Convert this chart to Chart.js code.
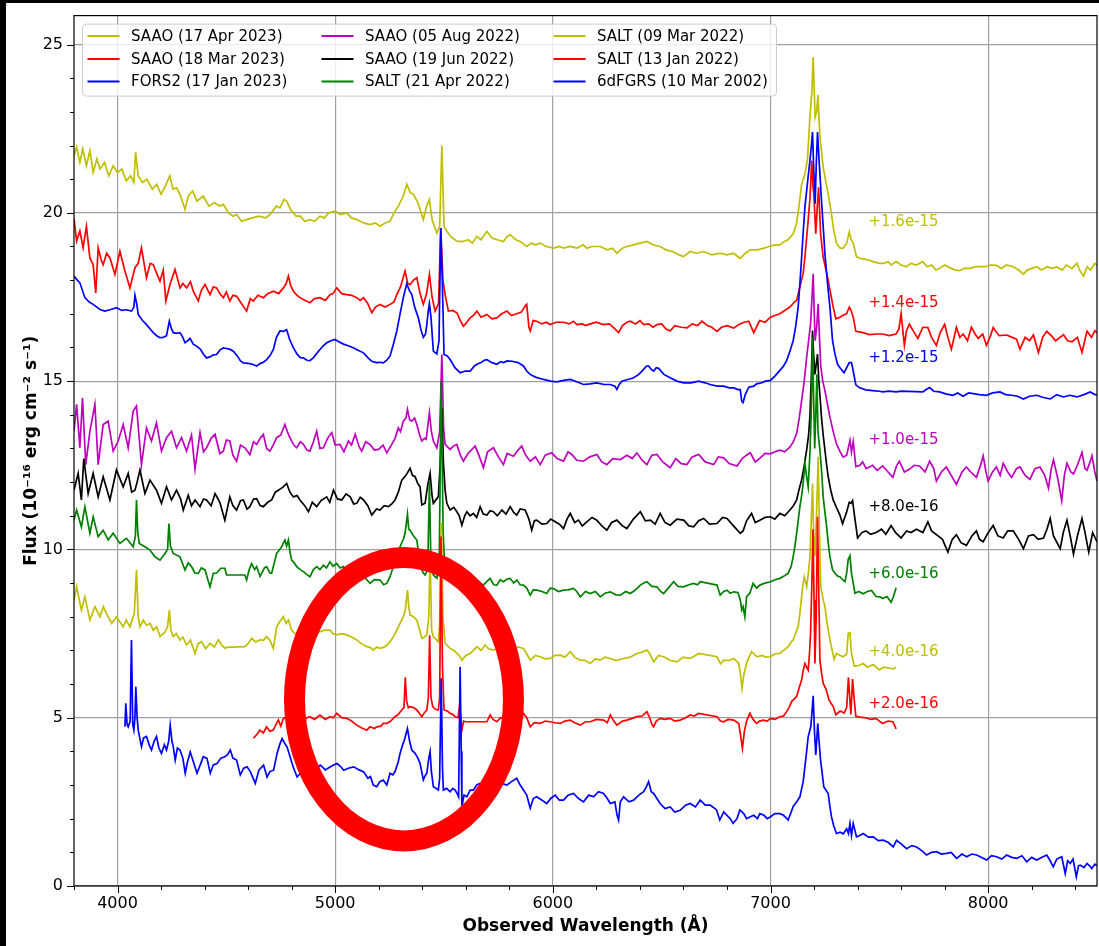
<!DOCTYPE html>
<html><head><meta charset="utf-8">
<script src="https://cdn.jsdelivr.net/npm/chart.js@4.4.1/dist/chart.umd.min.js"></script>
<style>
html,body{margin:0;padding:0;background:#000;width:1099px;height:946px;overflow:hidden}
#wrap{position:absolute;left:6px;top:3px;width:1093px;height:943px;background:#fff}
canvas{display:block}
</style></head>
<body><div id="wrap"><canvas id="c" width="1093" height="943" style="width:1093px;height:943px"></canvas></div>
<script>
// ---------------- DATA (wavelength Å, flux 1e-16 erg/cm2/s/Å incl. offsets) ----------------
const seriesLabels = ['SAAO (17 Apr 2023)','SAAO (18 Mar 2023)','FORS2 (17 Jan 2023)','SAAO (05 Aug 2022)','SAAO (19 Jun 2022)','SALT (21 Apr 2022)','SALT (09 Mar 2022)','SALT (13 Jan 2022)','6dFGRS (10 Mar 2002)'];
const offsetLabels = ['+1.6e-15','+1.4e-15','+1.2e-15','+1.0e-15','+8.0e-16','+6.0e-16','+4.0e-16','+2.0e-16'];
const offsetLabelWl = 7450;
const offsetLabelFlux = [19.71,17.31,15.68,13.24,11.27,9.27,6.94,5.41];
const xMajorTicks = [4000,5000,6000,7000,8000];
const yMajorTicks = [0,5,10,15,20,25];
const xLimits = [3800,8500];
const yLimits = [0,25.86];
const circleCenter = [5316,5.55];   // annotation ellipse centre (Å, flux)
const circleRadius = [503,4.21];    // half-axes (Å, flux)

const saao17Apr2023 = [[3800,21.7],[3812,21.95],[3827,21.5],[3840,21.9],[3857,21.4],[3873,21.85],[3888,21.2],[3905,21.6],[3920,21.3],[3940,21.5],[3960,21.1],[3980,21.4],[4000,21.2],[4020,21.3],[4040,20.95],[4060,21.1],[4075,20.9],[4083,21.8],[4095,21.1],[4115,20.9],[4135,21.0],[4160,20.7],[4180,20.85],[4200,20.55],[4220,20.8],[4240,21.1],[4255,20.7],[4271,20.75],[4290,20.5],[4310,20.1],[4325,20.5],[4345,20.65],[4365,20.35],[4394,20.5],[4420,20.2],[4445,20.3],[4470,20.2],[4486,20.25],[4510,20.0],[4530,19.9],[4547,19.95],[4570,19.75],[4593,19.8],[4620,19.85],[4650,19.9],[4680,19.85],[4700,19.95],[4730,20.2],[4746,20.15],[4765,20.4],[4777,20.35],[4795,20.1],[4820,19.9],[4840,19.9],[4860,19.75],[4884,19.8],[4905,19.75],[4930,19.9],[4950,19.85],[4970,20.0],[5000,20.05],[5025,19.95],[5053,20.0],[5075,19.85],[5100,19.8],[5130,19.7],[5160,19.65],[5185,19.7],[5206,19.6],[5230,19.7],[5252,19.75],[5270,20.0],[5290,20.2],[5313,20.5],[5329,20.85],[5345,20.6],[5360,20.55],[5380,20.3],[5395,20.0],[5405,19.8],[5420,20.2],[5433,20.4],[5445,19.8],[5467,19.4],[5480,19.6],[5490,22.0],[5500,19.6],[5513,19.45],[5530,19.3],[5560,19.15],[5589,19.15],[5610,19.2],[5630,19.1],[5650,19.3],[5670,19.2],[5697,19.45],[5720,19.25],[5745,19.2],[5773,19.15],[5790,19.3],[5804,19.35],[5830,19.2],[5850,19.15],[5880,19.0],[5900,19.1],[5920,19.05],[5942,19.1],[5970,19.0],[6003,18.95],[6030,19.0],[6050,18.95],[6080,19.0],[6110,18.95],[6140,19.05],[6156,18.95],[6180,19.0],[6218,19.0],[6250,18.9],[6275,18.95],[6294,18.8],[6320,18.95],[6340,19.0],[6371,19.05],[6400,19.1],[6432,19.15],[6460,19.05],[6493,19.0],[6520,18.9],[6550,18.85],[6580,18.75],[6601,18.7],[6630,18.85],[6660,18.8],[6693,18.85],[6730,18.75],[6769,18.8],[6800,18.75],[6830,18.8],[6861,18.65],[6885,18.8],[6907,18.9],[6940,18.9],[6970,18.95],[6992,19.0],[7020,19.05],[7043,19.05],[7058,19.13],[7080,19.2],[7104,19.38],[7120,19.7],[7127,20.0],[7143,20.85],[7158,21.15],[7170,21.6],[7181,22.85],[7190,23.6],[7196,24.62],[7201,23.6],[7205,22.84],[7212,23.0],[7218,23.5],[7227,22.25],[7242,21.36],[7255,20.9],[7265,20.56],[7280,19.97],[7290,19.5],[7303,19.1],[7320,18.95],[7334,18.95],[7350,19.1],[7362,19.43],[7370,19.2],[7380,19.1],[7395,18.7],[7410,18.65],[7426,18.63],[7450,18.6],[7472,18.55],[7500,18.5],[7520,18.5],[7540,18.55],[7555,18.45],[7577,18.55],[7600,18.45],[7623,18.4],[7645,18.5],[7670,18.45],[7700,18.55],[7720,18.4],[7740,18.45],[7760,18.3],[7777,18.35],[7800,18.45],[7830,18.35],[7850,18.3],[7869,18.28],[7890,18.35],[7920,18.35],[7940,18.4],[7962,18.4],[7990,18.4],[8010,18.45],[8038,18.44],[8060,18.35],[8085,18.45],[8115,18.4],[8140,18.3],[8162,18.18],[8180,18.3],[8200,18.35],[8223,18.4],[8245,18.3],[8270,18.4],[8295,18.35],[8315,18.39],[8340,18.3],[8360,18.45],[8385,18.35],[8408,18.5],[8420,18.3],[8438,18.12],[8455,18.4],[8470,18.3],[8490,18.5],[8500,18.44]];

const saao18Mar2023 = [[3800,19.83],[3812,19.16],[3827,19.46],[3842,18.96],[3857,19.6],[3873,18.66],[3888,18.46],[3900,17.62],[3911,18.96],[3925,18.6],[3934,18.46],[3950,18.8],[3965,18.66],[3988,18.17],[4011,18.86],[4034,18.27],[4057,17.77],[4080,18.37],[4095,18.5],[4110,18.96],[4133,18.07],[4150,18.5],[4164,18.46],[4180,18.2],[4195,17.97],[4210,18.3],[4222,17.38],[4241,17.87],[4264,18.32],[4287,17.77],[4300,17.9],[4317,17.77],[4335,17.95],[4348,17.67],[4371,17.38],[4385,17.7],[4402,17.87],[4425,17.57],[4440,17.8],[4455,17.77],[4470,17.6],[4486,17.48],[4500,17.65],[4516,17.38],[4530,17.55],[4547,17.52],[4570,17.3],[4593,17.08],[4610,17.45],[4624,17.38],[4645,17.55],[4670,17.48],[4690,17.6],[4716,17.67],[4740,17.6],[4762,17.77],[4775,17.9],[4785,18.12],[4795,17.85],[4808,17.67],[4825,17.55],[4838,17.48],[4860,17.4],[4884,17.33],[4905,17.45],[4930,17.48],[4955,17.4],[4976,17.57],[4990,17.6],[5007,17.77],[5030,17.6],[5053,17.57],[5075,17.55],[5099,17.48],[5115,17.4],[5130,17.48],[5150,17.3],[5168,17.03],[5185,17.2],[5206,17.28],[5230,17.2],[5252,17.28],[5270,17.35],[5283,17.57],[5300,17.8],[5321,18.27],[5333,17.9],[5344,17.87],[5360,18.0],[5375,18.07],[5390,17.6],[5405,17.28],[5420,17.6],[5433,18.17],[5445,17.5],[5459,17.08],[5475,17.3],[5485,19.55],[5495,18.0],[5505,17.57],[5520,17.08],[5540,17.1],[5559,17.03],[5575,16.8],[5589,16.63],[5605,16.75],[5620,16.88],[5635,16.95],[5651,17.08],[5670,16.9],[5697,16.98],[5720,16.85],[5743,16.88],[5765,17.0],[5789,17.08],[5810,16.95],[5834,17.0],[5855,17.05],[5875,17.25],[5880,17.28],[5890,16.6],[5896,16.49],[5910,16.8],[5926,16.78],[5950,16.7],[5970,16.75],[5988,16.68],[6015,16.75],[6049,16.75],[6075,16.7],[6095,16.78],[6110,16.68],[6135,16.7],[6150,16.65],[6172,16.7],[6200,16.75],[6233,16.68],[6260,16.7],[6285,16.55],[6302,16.44],[6320,16.65],[6340,16.75],[6356,16.78],[6380,16.7],[6400,16.8],[6417,16.68],[6440,16.7],[6460,16.6],[6478,16.68],[6500,16.7],[6520,16.55],[6539,16.49],[6560,16.65],[6590,16.6],[6616,16.58],[6640,16.7],[6665,16.65],[6685,16.78],[6710,16.65],[6730,16.6],[6754,16.48],[6775,16.6],[6800,16.65],[6831,16.58],[6859,16.7],[6880,16.75],[6900,16.78],[6923,16.44],[6950,16.8],[6975,16.75],[7000,16.9],[7020,16.95],[7043,17.0],[7065,17.1],[7089,17.2],[7110,17.35],[7120,17.4],[7135,17.8],[7150,18.2],[7158,18.68],[7173,19.77],[7182,20.5],[7189,21.55],[7195,20.8],[7199,20.56],[7208,19.38],[7215,20.2],[7221,20.76],[7230,19.38],[7242,18.68],[7255,18.3],[7265,17.99],[7288,17.2],[7300,16.85],[7319,16.9],[7331,16.95],[7349,17.0],[7362,17.2],[7369,17.12],[7380,16.9],[7392,16.48],[7420,16.45],[7454,16.38],[7487,16.4],[7515,16.4],[7545,16.35],[7577,16.4],[7590,16.55],[7600,17.01],[7615,16.06],[7625,16.5],[7638,16.69],[7655,16.5],[7677,16.27],[7700,16.6],[7723,16.59],[7740,16.3],[7762,16.06],[7780,16.45],[7800,16.69],[7815,16.3],[7831,15.95],[7854,16.6],[7870,16.3],[7885,16.4],[7905,16.2],[7923,16.6],[7940,16.4],[7954,16.27],[7975,16.4],[7992,16.06],[8008,16.3],[8023,16.59],[8050,16.35],[8085,16.37],[8110,16.3],[8130,16.25],[8146,15.95],[8170,16.3],[8190,16.2],[8208,16.37],[8231,15.85],[8250,16.3],[8269,16.48],[8290,16.35],[8310,16.2],[8330,16.3],[8346,16.38],[8365,16.2],[8385,16.17],[8410,16.3],[8431,15.85],[8454,16.48],[8475,16.3],[8490,16.5],[8500,16.43]];

const fors217Jan2023 = [[3800,18.12],[3815,18.0],[3827,17.92],[3850,17.48],[3870,17.35],[3888,17.28],[3905,17.2],[3919,17.13],[3942,17.08],[3965,17.12],[3980,17.15],[3995,17.18],[4020,17.1],[4041,17.12],[4064,17.08],[4075,17.2],[4080,17.55],[4088,17.3],[4095,16.98],[4115,16.8],[4133,16.68],[4150,16.55],[4164,16.44],[4180,16.35],[4195,16.29],[4210,16.3],[4225,16.35],[4238,16.78],[4248,16.55],[4256,16.44],[4270,16.42],[4287,16.44],[4300,16.3],[4310,16.14],[4322,16.2],[4333,16.27],[4348,16.1],[4363,16.04],[4380,15.95],[4395,15.8],[4409,15.69],[4425,15.72],[4440,15.78],[4455,15.79],[4470,15.92],[4486,15.99],[4500,15.97],[4515,15.95],[4532,15.89],[4550,15.75],[4565,15.6],[4578,15.54],[4600,15.53],[4620,15.5],[4639,15.45],[4655,15.52],[4670,15.56],[4685,15.64],[4700,15.75],[4716,15.94],[4730,16.3],[4746,16.49],[4762,16.48],[4777,16.53],[4790,16.25],[4808,15.99],[4825,15.8],[4840,15.7],[4854,15.69],[4870,15.62],[4884,15.61],[4900,15.7],[4923,15.89],[4945,16.05],[4961,16.14],[4980,16.2],[4999,16.24],[5015,16.18],[5038,16.1],[5060,16.05],[5083,15.99],[5105,15.92],[5130,15.84],[5150,15.7],[5168,15.59],[5190,15.55],[5206,15.56],[5221,15.54],[5237,15.62],[5252,15.75],[5267,16.09],[5283,16.49],[5298,17.0],[5313,17.48],[5329,17.9],[5340,17.7],[5352,17.57],[5365,17.2],[5382,16.88],[5395,16.5],[5405,16.3],[5415,16.4],[5421,16.68],[5428,17.1],[5433,17.3],[5440,16.9],[5451,15.89],[5467,15.81],[5477,16.2],[5485,19.55],[5492,18.0],[5500,15.79],[5515,15.75],[5528,15.64],[5550,15.4],[5574,15.25],[5598,15.3],[5620,15.3],[5640,15.45],[5651,15.5],[5670,15.55],[5685,15.62],[5697,15.64],[5720,15.55],[5743,15.5],[5760,15.58],[5773,15.55],[5790,15.6],[5812,15.59],[5840,15.55],[5865,15.45],[5880,15.3],[5896,15.2],[5920,15.12],[5957,15.05],[5990,15.0],[6018,14.98],[6050,15.02],[6080,15.05],[6110,14.98],[6141,14.9],[6170,14.92],[6202,14.95],[6235,14.9],[6264,14.9],[6285,14.85],[6294,14.75],[6305,14.9],[6317,15.0],[6345,15.05],[6371,15.1],[6395,15.2],[6417,15.35],[6430,15.45],[6440,15.45],[6452,15.35],[6463,15.3],[6475,15.4],[6486,15.38],[6510,15.2],[6539,15.1],[6570,15.0],[6601,14.95],[6635,14.95],[6670,15.0],[6700,14.95],[6723,14.9],[6755,14.85],[6785,14.85],[6810,14.8],[6831,14.8],[6850,14.75],[6861,14.75],[6868,14.4],[6874,14.36],[6884,14.6],[6900,14.82],[6923,14.85],[6936,14.92],[6960,14.95],[6976,15.0],[7000,15.02],[7020,15.15],[7043,15.32],[7060,15.45],[7074,15.61],[7090,15.9],[7104,16.2],[7115,16.6],[7127,17.2],[7135,17.9],[7143,18.68],[7150,19.4],[7158,20.17],[7170,20.9],[7181,21.55],[7188,22.0],[7193,22.4],[7199,21.2],[7205,20.27],[7210,21.4],[7216,22.4],[7222,21.7],[7234,20.37],[7243,19.5],[7250,18.78],[7262,17.9],[7273,17.2],[7285,16.2],[7296,15.81],[7308,15.5],[7319,15.4],[7338,15.25],[7350,15.4],[7362,15.55],[7372,15.55],[7380,15.3],[7392,14.89],[7410,14.8],[7438,14.74],[7470,14.72],[7500,14.7],[7515,14.68],[7545,14.7],[7577,14.68],[7600,14.7],[7700,14.68],[7715,14.75],[7731,14.81],[7750,14.7],[7777,14.68],[7805,14.62],[7838,14.58],[7860,14.65],[7885,14.55],[7910,14.65],[7931,14.63],[7960,14.6],[7992,14.58],[8020,14.65],[8054,14.68],[8080,14.6],[8108,14.58],[8135,14.55],[8162,14.47],[8190,14.55],[8223,14.58],[8250,14.52],[8285,14.47],[8315,14.6],[8346,14.53],[8375,14.58],[8408,14.53],[8440,14.6],[8469,14.68],[8490,14.6],[8500,14.6]];

const saao05Aug2022 = [[3800,13.51],[3812,14.31],[3827,13.02],[3839,14.5],[3854,12.52],[3873,13.51],[3896,14.31],[3911,12.52],[3934,13.71],[3957,13.81],[3980,12.92],[4003,13.22],[4026,13.71],[4049,13.02],[4072,14.11],[4087,14.26],[4110,12.52],[4133,13.61],[4156,13.22],[4179,13.76],[4202,12.92],[4225,13.32],[4248,13.51],[4271,13.02],[4294,13.32],[4317,12.92],[4340,13.4],[4356,12.38],[4379,13.47],[4395,12.9],[4409,13.02],[4430,13.3],[4448,13.42],[4470,12.85],[4486,12.92],[4500,13.25],[4516,13.22],[4530,12.8],[4547,12.62],[4565,13.1],[4585,13.02],[4608,12.82],[4625,13.2],[4639,13.12],[4655,13.3],[4670,13.42],[4685,13.0],[4700,12.92],[4715,13.1],[4731,13.32],[4750,13.4],[4769,13.71],[4780,13.5],[4792,13.32],[4810,13.1],[4823,13.02],[4840,13.2],[4854,13.12],[4870,12.95],[4884,12.92],[4900,13.2],[4915,13.51],[4930,13.0],[4946,13.02],[4965,13.3],[4984,13.47],[5000,13.1],[5022,13.12],[5040,12.9],[5061,13.22],[5075,13.1],[5092,13.42],[5110,13.05],[5122,12.92],[5140,13.2],[5160,13.12],[5180,12.95],[5199,12.97],[5220,13.1],[5237,12.87],[5260,13.12],[5275,13.3],[5290,13.61],[5300,13.5],[5313,13.81],[5325,13.9],[5332,14.16],[5342,13.85],[5352,13.81],[5365,13.9],[5375,13.71],[5388,13.4],[5398,13.22],[5410,13.3],[5418,13.27],[5426,13.7],[5433,14.06],[5442,13.5],[5451,13.22],[5467,13.02],[5480,13.5],[5490,15.79],[5498,13.6],[5505,13.12],[5528,12.97],[5543,13.07],[5559,13.12],[5575,12.8],[5589,12.62],[5610,12.85],[5625,12.95],[5643,13.07],[5660,12.8],[5681,12.43],[5700,12.9],[5727,13.02],[5750,12.75],[5773,12.52],[5790,12.85],[5819,12.77],[5840,12.95],[5857,13.07],[5875,12.8],[5896,12.62],[5920,12.75],[5942,12.52],[5965,12.8],[5995,12.87],[6020,12.7],[6049,12.62],[6070,12.9],[6087,12.82],[6110,12.65],[6141,12.62],[6170,12.75],[6202,12.82],[6225,12.6],[6248,12.52],[6275,12.7],[6310,12.67],[6340,12.8],[6365,12.7],[6386,12.87],[6410,12.65],[6432,12.52],[6455,12.8],[6478,12.82],[6505,12.6],[6539,12.43],[6565,12.7],[6590,12.55],[6616,12.52],[6640,12.75],[6670,12.82],[6700,12.6],[6739,12.52],[6760,12.75],[6785,12.72],[6810,12.55],[6846,12.48],[6870,12.7],[6890,12.8],[6907,12.87],[6930,12.6],[6953,12.72],[6975,12.85],[7000,12.84],[7020,12.9],[7043,12.95],[7065,12.9],[7089,13.04],[7105,13.2],[7120,13.44],[7132,13.9],[7143,14.43],[7155,15.0],[7166,15.71],[7175,16.2],[7184,16.7],[7190,17.4],[7196,18.19],[7201,17.0],[7205,16.2],[7212,16.6],[7219,17.3],[7225,16.3],[7231,15.42],[7240,15.0],[7250,14.72],[7262,14.3],[7273,13.93],[7288,13.5],[7303,13.14],[7320,12.9],[7334,12.74],[7350,12.8],[7365,13.24],[7372,12.9],[7380,13.2],[7392,12.46],[7411,12.5],[7423,12.6],[7440,12.4],[7469,12.5],[7490,12.35],[7515,12.48],[7540,12.3],[7562,12.14],[7580,12.5],[7592,12.62],[7615,12.3],[7638,12.38],[7660,12.5],[7685,12.48],[7710,12.3],[7731,12.62],[7750,12.4],[7762,12.03],[7785,12.3],[7808,12.45],[7830,12.2],[7854,11.93],[7880,12.3],[7900,12.45],[7920,12.3],[7946,12.14],[7965,12.5],[7977,12.78],[7990,12.3],[8000,12.03],[8020,12.3],[8038,12.45],[8055,12.2],[8069,12.56],[8090,12.3],[8108,12.14],[8130,12.4],[8146,12.45],[8170,12.2],[8192,12.08],[8215,12.4],[8238,12.45],[8260,12.2],[8277,11.82],[8290,12.4],[8300,12.66],[8320,12.1],[8338,11.45],[8350,12.2],[8362,12.56],[8380,12.3],[8392,12.24],[8410,12.5],[8431,12.88],[8445,12.4],[8454,12.35],[8468,12.6],[8477,12.78],[8490,12.3],[8500,12.03]];

const saao19Jun2022 = [[3800,11.76],[3819,12.26],[3834,11.47],[3845,12.7],[3865,11.66],[3888,12.26],[3911,11.56],[3934,12.16],[3965,11.47],[3995,12.36],[4026,11.86],[4049,12.26],[4065,11.7],[4080,11.76],[4090,12.0],[4103,12.36],[4126,11.66],[4149,12.06],[4179,11.76],[4202,11.37],[4225,11.86],[4248,11.47],[4271,11.76],[4290,11.5],[4302,11.17],[4325,11.61],[4340,11.3],[4356,11.47],[4379,11.27],[4395,11.5],[4409,11.47],[4430,11.3],[4448,11.66],[4470,11.4],[4493,10.87],[4516,11.56],[4530,11.3],[4547,11.17],[4565,11.45],[4578,11.47],[4595,11.2],[4608,11.27],[4625,11.5],[4639,11.51],[4655,11.3],[4670,11.27],[4690,11.4],[4708,11.47],[4725,11.7],[4739,11.76],[4760,11.85],[4777,11.96],[4792,11.7],[4808,11.56],[4825,11.6],[4838,11.47],[4860,11.3],[4877,11.12],[4895,11.4],[4915,11.27],[4935,11.45],[4961,11.56],[4975,11.4],[4992,11.76],[5010,11.5],[5030,11.47],[5050,11.65],[5069,11.56],[5085,11.35],[5099,11.37],[5115,11.55],[5130,11.47],[5150,11.3],[5168,11.02],[5190,11.2],[5206,11.17],[5225,11.3],[5244,11.27],[5260,11.35],[5275,11.47],[5290,11.7],[5306,12.06],[5325,12.2],[5344,12.41],[5355,12.2],[5367,12.16],[5380,11.95],[5390,11.86],[5398,11.32],[5413,11.37],[5425,11.9],[5436,12.26],[5445,11.6],[5451,11.37],[5474,11.57],[5482,12.5],[5490,14.2],[5497,12.6],[5505,11.76],[5513,11.37],[5528,11.17],[5545,11.25],[5559,11.12],[5570,11.0],[5582,10.72],[5595,11.0],[5605,11.12],[5620,11.0],[5635,11.07],[5650,10.95],[5666,11.27],[5680,11.05],[5697,11.02],[5712,11.15],[5727,11.12],[5745,11.0],[5766,11.17],[5785,11.05],[5804,11.27],[5820,11.1],[5834,11.02],[5850,11.2],[5873,11.17],[5890,10.9],[5903,10.57],[5915,10.85],[5926,10.87],[5950,10.75],[5972,10.77],[5990,10.9],[6011,10.82],[6030,10.75],[6049,10.62],[6065,10.9],[6080,11.07],[6100,10.8],[6118,10.87],[6135,10.7],[6156,10.82],[6180,10.95],[6202,10.87],[6225,10.7],[6248,10.57],[6270,10.8],[6294,10.87],[6320,10.7],[6340,10.62],[6370,10.9],[6402,11.12],[6425,10.85],[6448,10.87],[6470,10.75],[6493,11.07],[6515,10.8],[6539,10.72],[6570,10.9],[6601,10.87],[6625,10.7],[6647,10.67],[6670,10.85],[6693,10.92],[6720,10.75],[6754,10.77],[6780,10.95],[6800,10.92],[6830,10.7],[6861,10.48],[6874,10.55],[6890,10.85],[6913,11.07],[6930,10.8],[6951,10.87],[6975,10.95],[7000,10.97],[7020,10.9],[7043,11.07],[7065,11.0],[7089,11.17],[7105,11.3],[7120,11.47],[7132,11.8],[7143,12.06],[7155,12.5],[7166,12.95],[7175,13.4],[7181,13.94],[7188,15.2],[7193,16.5],[7198,15.8],[7204,15.2],[7210,15.5],[7216,15.8],[7222,15.0],[7228,14.5],[7234,13.94],[7242,13.4],[7250,12.95],[7258,12.5],[7265,12.16],[7277,11.75],[7288,11.47],[7300,11.29],[7319,11.02],[7331,10.76],[7349,11.1],[7362,11.4],[7370,11.37],[7377,11.45],[7388,10.9],[7400,10.34],[7420,10.5],[7438,10.55],[7460,10.45],[7485,10.5],[7510,10.6],[7530,10.45],[7554,10.71],[7575,10.5],[7600,10.34],[7625,10.55],[7646,10.5],[7670,10.6],[7700,10.5],[7723,10.82],[7740,10.55],[7762,10.44],[7790,10.3],[7815,9.92],[7835,10.3],[7854,10.44],[7875,10.2],[7900,10.12],[7925,10.4],[7946,10.55],[7960,10.3],[7977,10.23],[8000,10.5],[8023,10.71],[8045,10.4],[8069,10.34],[8090,10.55],[8115,10.55],[8140,10.3],[8162,10.02],[8185,10.4],[8208,10.44],[8230,10.3],[8254,10.34],[8270,10.6],[8285,10.92],[8300,10.4],[8331,10.02],[8345,10.5],[8362,10.87],[8380,10.3],[8392,9.86],[8410,10.4],[8431,10.92],[8445,10.5],[8462,9.92],[8480,10.5],[8500,10.23]];

const salt21Apr2022 = [[3800,10.87],[3812,11.17],[3834,10.67],[3850,11.27],[3873,10.48],[3888,10.97],[3911,10.38],[3934,10.57],[3957,10.28],[3980,10.48],[4011,10.18],[4041,10.33],[4072,10.08],[4082,10.4],[4087,11.47],[4093,10.5],[4100,10.18],[4126,10.08],[4149,9.98],[4172,9.78],[4195,9.68],[4218,9.88],[4230,10.0],[4236,10.77],[4243,10.1],[4256,9.88],[4287,9.78],[4310,9.39],[4325,9.6],[4340,9.49],[4355,9.3],[4371,9.29],[4385,9.45],[4402,9.39],[4415,9.1],[4425,8.89],[4440,9.29],[4455,9.3],[4475,9.44],[4493,9.44],[4501,9.24],[4585,9.24],[4593,9.09],[4605,9.4],[4616,9.58],[4630,9.4],[4639,9.49],[4655,9.2],[4662,9.29],[4675,9.45],[4685,9.49],[4700,9.3],[4708,9.29],[4720,9.6],[4731,9.88],[4745,10.0],[4754,10.08],[4769,10.28],[4777,10.1],[4785,10.28],[4793,9.9],[4800,9.68],[4812,9.6],[4823,9.49],[4840,9.4],[4854,9.34],[4870,9.25],[4884,9.19],[4900,9.4],[4915,9.49],[4930,9.4],[4946,9.53],[4960,9.45],[4976,9.63],[4990,9.5],[5007,9.58],[5022,9.45],[5038,9.49],[5055,9.35],[5069,9.39],[5090,9.3],[5110,9.25],[5130,9.19],[5145,9.1],[5160,8.99],[5180,9.1],[5206,9.09],[5222,8.95],[5237,8.99],[5252,9.19],[5267,9.49],[5283,9.6],[5298,10.08],[5313,10.3],[5321,10.48],[5332,11.05],[5338,10.6],[5344,10.57],[5360,10.4],[5375,10.28],[5383,9.9],[5390,9.5],[5405,9.3],[5413,9.24],[5425,9.4],[5433,12.0],[5440,9.5],[5451,9.24],[5467,9.14],[5478,9.6],[5487,15.0],[5496,10.5],[5505,9.24],[5528,9.04],[5545,9.1],[5559,8.94],[5575,9.0],[5589,8.84],[5605,9.0],[5620,9.04],[5635,8.9],[5651,8.84],[5665,9.0],[5681,8.94],[5697,9.05],[5712,9.14],[5728,8.95],[5743,8.94],[5758,9.1],[5773,9.04],[5790,9.12],[5804,9.14],[5820,9.0],[5834,9.09],[5850,8.95],[5865,8.94],[5880,8.85],[5896,8.64],[5910,8.8],[5926,8.79],[5950,8.75],[5972,8.69],[5988,8.85],[6003,8.84],[6025,8.75],[6049,8.79],[6070,8.8],[6095,8.84],[6110,8.75],[6126,8.59],[6150,8.75],[6172,8.69],[6195,8.75],[6218,8.59],[6240,8.7],[6264,8.74],[6290,8.65],[6310,8.64],[6335,8.75],[6356,8.69],[6380,8.8],[6402,8.94],[6418,9.0],[6432,9.04],[6455,8.9],[6478,8.89],[6495,8.75],[6509,8.69],[6530,8.85],[6555,9.04],[6575,8.9],[6601,8.89],[6625,8.95],[6647,8.99],[6665,8.95],[6677,9.04],[6754,8.94],[6769,8.64],[6785,8.75],[6800,8.79],[6815,8.7],[6831,8.74],[6850,8.72],[6861,8.5],[6868,8.2],[6874,8.3],[6882,8.0],[6890,8.6],[6905,8.7],[6920,8.99],[6936,8.85],[6951,8.94],[6975,9.0],[7000,9.04],[7020,9.1],[7043,9.14],[7060,9.2],[7081,9.29],[7095,9.5],[7104,9.78],[7112,10.1],[7120,10.48],[7128,10.9],[7135,11.27],[7143,11.6],[7150,11.96],[7158,12.55],[7165,12.2],[7173,11.86],[7181,12.85],[7187,14.0],[7193,16.3],[7198,14.5],[7203,13.0],[7208,14.0],[7213,15.2],[7218,13.5],[7227,12.95],[7235,12.3],[7242,11.56],[7250,11.1],[7258,10.67],[7265,10.2],[7273,9.78],[7285,9.4],[7296,9.29],[7310,9.2],[7319,9.19],[7331,9.1],[7342,9.04],[7350,9.3],[7357,9.7],[7365,9.81],[7372,9.29],[7380,9.0],[7388,8.7],[7405,8.75],[7426,8.68],[7445,8.75],[7464,8.78],[7485,8.6],[7503,8.59],[7515,8.54],[7535,8.6],[7554,8.43],[7565,8.6],[7577,8.86]];

const salt09Mar2022 = [[3800,8.5],[3812,8.89],[3834,8.2],[3850,8.59],[3873,7.9],[3896,8.3],[3919,8.0],[3935,8.3],[3949,8.1],[3973,7.8],[3995,8.0],[4010,7.85],[4026,7.7],[4040,7.9],[4057,7.7],[4077,8.1],[4087,9.39],[4095,8.0],[4103,7.7],[4118,7.9],[4133,7.75],[4150,7.8],[4164,7.6],[4180,7.7],[4195,7.41],[4218,7.55],[4230,7.7],[4238,8.2],[4245,7.6],[4256,7.41],[4270,7.5],[4287,7.31],[4300,7.4],[4317,7.16],[4335,7.3],[4356,6.91],[4370,7.2],[4386,7.26],[4405,7.05],[4425,7.21],[4445,7.1],[4463,7.31],[4480,7.15],[4494,7.06],[4501,7.09],[4585,7.11],[4600,7.2],[4616,7.36],[4635,7.25],[4654,7.31],[4670,7.3],[4685,7.41],[4700,7.3],[4716,7.06],[4731,7.7],[4745,7.85],[4762,8.0],[4775,7.8],[4785,7.9],[4800,7.6],[4815,7.5],[4838,7.41],[4860,7.5],[4884,7.46],[4905,7.55],[4930,7.55],[4950,7.6],[4976,7.6],[4990,7.5],[5007,7.46],[5030,7.5],[5053,7.46],[5075,7.4],[5099,7.31],[5120,7.2],[5145,7.11],[5160,7.09],[5176,7.01],[5191,7.1],[5206,7.06],[5222,7.09],[5237,7.15],[5252,7.26],[5267,7.4],[5283,7.6],[5298,7.8],[5313,8.0],[5322,8.2],[5332,8.79],[5338,8.3],[5344,8.05],[5360,8.0],[5375,7.9],[5388,7.6],[5398,7.36],[5410,7.4],[5421,7.46],[5430,8.0],[5436,9.88],[5443,7.6],[5451,7.41],[5467,7.3],[5474,7.26],[5480,7.8],[5488,10.8],[5495,8.0],[5505,7.21],[5528,7.06],[5545,7.0],[5559,6.91],[5570,6.85],[5582,6.71],[5600,6.85],[5620,6.91],[5635,7.0],[5651,7.11],[5670,7.0],[5689,7.16],[5705,7.05],[5727,7.01],[5750,7.06],[5773,7.11],[5795,7.0],[5819,7.01],[5840,7.1],[5865,7.06],[5880,6.9],[5896,6.71],[5920,6.85],[5942,6.81],[5965,6.75],[5988,6.76],[6010,6.85],[6034,6.86],[6055,6.8],[6080,6.96],[6100,6.8],[6126,6.71],[6150,6.7],[6172,6.61],[6195,6.75],[6218,6.71],[6240,6.8],[6264,6.76],[6290,6.7],[6325,6.76],[6355,6.8],[6386,6.91],[6410,6.95],[6432,7.01],[6445,6.9],[6463,6.66],[6485,6.85],[6509,6.81],[6540,6.7],[6570,6.66],[6600,6.8],[6631,6.76],[6655,6.85],[6670,6.91],[6754,6.81],[6770,6.6],[6785,6.71],[6810,6.7],[6831,6.76],[6854,6.61],[6862,6.3],[6869,5.87],[6878,6.3],[6892,6.66],[6913,6.96],[6938,6.81],[6960,6.85],[6980,6.8],[7000,6.81],[7020,6.9],[7043,6.91],[7060,7.0],[7081,7.11],[7095,7.25],[7104,7.31],[7115,7.5],[7127,7.7],[7135,8.1],[7143,8.59],[7150,9.0],[7155,9.19],[7162,9.0],[7166,8.89],[7174,9.3],[7181,9.78],[7187,10.8],[7193,11.96],[7198,10.5],[7204,9.8],[7210,10.8],[7215,11.8],[7219,12.75],[7225,10.5],[7231,8.89],[7242,8.5],[7250,8.3],[7260,7.8],[7273,7.31],[7292,6.74],[7303,6.91],[7320,6.85],[7334,6.81],[7350,6.9],[7357,7.5],[7365,7.53],[7372,6.91],[7385,6.53],[7405,6.55],[7426,6.61],[7445,6.5],[7472,6.58],[7500,6.42],[7520,6.5],[7546,6.47],[7565,6.45],[7577,6.5]];

const salt13Jan2022 = [[4624,4.39],[4640,4.5],[4654,4.63],[4670,4.55],[4685,4.73],[4700,4.6],[4716,4.63],[4728,4.8],[4739,4.93],[4750,4.75],[4762,4.98],[4775,5.0],[4792,4.93],[4808,4.85],[4823,5.03],[4840,4.9],[4854,4.93],[4870,5.0],[4884,5.03],[4905,4.95],[4930,5.08],[4955,4.95],[4976,5.03],[4992,5.0],[5007,5.13],[5030,5.0],[5053,4.98],[5075,4.9],[5099,4.78],[5120,4.7],[5145,4.63],[5160,4.73],[5180,4.68],[5191,4.73],[5210,4.75],[5221,4.83],[5237,4.83],[5255,4.9],[5275,5.03],[5290,5.1],[5306,5.23],[5316,5.3],[5322,6.2],[5328,5.5],[5336,5.3],[5344,5.33],[5360,5.3],[5375,5.23],[5390,5.1],[5398,5.03],[5410,5.15],[5421,5.23],[5428,5.6],[5434,7.45],[5440,5.6],[5448,5.33],[5460,5.25],[5474,5.23],[5480,5.6],[5486,10.38],[5493,6.5],[5500,5.23],[5515,5.2],[5528,5.13],[5540,5.1],[5551,5.03],[5565,5.0],[5572,5.4],[5577,5.0],[5582,4.63],[5590,4.9],[5597,4.88],[5697,4.88],[5712,5.08],[5725,4.95],[5743,4.88],[5760,5.0],[5773,4.98],[5795,4.9],[5819,4.93],[5840,5.0],[5855,4.95],[5865,5.13],[5880,5.0],[5896,4.73],[5915,4.85],[5942,4.83],[5965,4.9],[5988,4.88],[6010,4.85],[6034,4.83],[6055,4.9],[6080,4.93],[6100,4.85],[6126,4.78],[6150,4.88],[6172,4.88],[6200,4.95],[6233,4.93],[6250,4.85],[6264,5.08],[6280,4.9],[6294,4.78],[6320,4.9],[6340,4.93],[6365,4.98],[6386,5.03],[6410,5.05],[6432,5.18],[6445,5.0],[6455,4.8],[6463,4.73],[6475,4.9],[6493,4.98],[6515,4.95],[6539,4.98],[6560,4.9],[6585,4.93],[6610,5.0],[6631,5.08],[6650,5.05],[6670,5.13],[6754,5.03],[6770,4.9],[6785,4.88],[6805,4.95],[6831,4.93],[6854,4.83],[6862,4.5],[6871,4.09],[6880,4.6],[6890,4.9],[6905,5.13],[6920,4.95],[6936,4.83],[6950,4.9],[6966,4.93],[6985,4.9],[7000,4.98],[7020,4.95],[7043,5.03],[7060,5.05],[7074,5.18],[7085,5.3],[7097,5.48],[7108,5.55],[7120,5.63],[7132,5.9],[7143,6.12],[7150,6.4],[7158,6.61],[7166,6.5],[7173,6.41],[7179,6.9],[7184,7.5],[7190,9.0],[7195,10.6],[7200,8.5],[7204,6.61],[7210,8.0],[7216,10.97],[7221,9.0],[7227,6.71],[7235,6.3],[7242,6.02],[7255,5.85],[7269,5.52],[7288,5.33],[7300,5.09],[7320,5.2],[7338,5.14],[7350,5.3],[7358,6.2],[7365,5.5],[7369,5.1],[7373,5.6],[7377,6.15],[7385,5.5],[7392,5.04],[7410,5.02],[7438,5.0],[7460,4.95],[7485,4.98],[7500,4.9],[7515,4.83],[7540,4.9],[7562,4.88],[7577,4.67]];

const sixdf10Mar2002 = [[4034,4.73],[4038,5.43],[4044,4.8],[4049,4.73],[4058,4.9],[4064,7.31],[4070,4.8],[4075,4.63],[4080,5.0],[4084,5.92],[4090,5.0],[4095,4.63],[4102,4.4],[4110,4.14],[4120,4.4],[4133,4.44],[4145,4.2],[4156,4.04],[4168,4.3],[4179,4.44],[4190,4.1],[4202,3.94],[4215,4.2],[4225,4.04],[4235,4.3],[4242,4.78],[4250,4.3],[4256,4.14],[4265,3.74],[4275,4.1],[4287,4.04],[4300,3.8],[4311,3.35],[4322,3.7],[4334,3.98],[4348,3.7],[4365,3.35],[4380,3.6],[4394,3.84],[4411,3.79],[4426,3.35],[4440,3.6],[4457,3.64],[4475,3.8],[4493,3.84],[4505,3.9],[4518,4.04],[4530,3.8],[4547,3.74],[4564,3.3],[4580,3.5],[4595,3.54],[4610,3.4],[4633,3.05],[4650,3.45],[4671,3.59],[4687,3.24],[4700,3.4],[4717,3.44],[4733,3.94],[4745,4.2],[4756,4.38],[4767,4.25],[4779,4.13],[4790,3.9],[4802,3.64],[4812,3.45],[4825,3.24],[4840,3.35],[4855,3.39],[4870,3.5],[4886,3.54],[4905,3.45],[4932,3.59],[4955,3.45],[4978,3.54],[4995,3.6],[5009,3.64],[5025,3.55],[5039,3.44],[5060,3.5],[5085,3.54],[5110,3.45],[5131,3.39],[5150,3.2],[5162,3.25],[5175,3.0],[5191,2.95],[5205,3.1],[5221,3.15],[5237,3.0],[5252,3.35],[5265,3.3],[5275,3.4],[5290,3.7],[5298,3.94],[5310,4.2],[5318,4.34],[5332,4.68],[5342,4.3],[5352,4.04],[5367,3.94],[5380,3.8],[5390,3.64],[5405,3.15],[5415,3.3],[5421,3.35],[5430,3.8],[5436,3.99],[5442,3.4],[5451,2.95],[5465,2.9],[5474,2.85],[5480,3.2],[5487,6.17],[5493,3.5],[5497,2.85],[5512,2.9],[5528,2.8],[5540,2.9],[5551,2.85],[5560,2.75],[5567,2.65],[5574,6.51],[5579,4.0],[5582,2.36],[5592,2.7],[5605,2.65],[5620,2.85],[5635,2.85],[5650,3.0],[5666,3.05],[5680,2.9],[5697,2.85],[5720,3.0],[5743,2.95],[5765,3.05],[5789,3.0],[5810,3.1],[5834,3.2],[5850,3.0],[5865,2.85],[5880,2.7],[5896,2.31],[5910,2.6],[5926,2.65],[5950,2.55],[5972,2.45],[5990,2.6],[6011,2.7],[6030,2.55],[6049,2.55],[6070,2.7],[6095,2.75],[6118,2.6],[6141,2.5],[6165,2.7],[6187,2.65],[6210,2.8],[6233,2.75],[6250,2.6],[6264,2.45],[6285,2.5],[6295,2.1],[6302,1.96],[6310,2.5],[6325,2.65],[6350,2.5],[6371,2.55],[6395,2.7],[6417,2.8],[6430,2.95],[6440,3.1],[6452,2.8],[6463,2.75],[6478,2.6],[6493,2.45],[6515,2.3],[6539,2.35],[6560,2.2],[6585,2.25],[6610,2.4],[6631,2.45],[6655,2.35],[6677,2.55],[6700,2.4],[6723,2.4],[6745,2.3],[6752,2.26],[6767,1.96],[6785,2.2],[6800,2.1],[6815,2.0],[6828,1.86],[6846,2.0],[6859,2.26],[6877,2.15],[6890,2.0],[6905,2.05],[6923,2.1],[6940,2.0],[6951,2.15],[6970,2.1],[6985,2.0],[7000,2.06],[7020,2.15],[7043,2.15],[7060,2.1],[7081,1.96],[7095,2.2],[7104,2.36],[7120,2.5],[7135,2.65],[7150,3.1],[7158,3.54],[7166,4.0],[7173,4.43],[7185,4.73],[7191,5.2],[7196,5.65],[7202,4.6],[7208,3.89],[7213,4.4],[7217,4.83],[7223,4.3],[7230,3.74],[7245,2.94],[7265,2.75],[7272,2.4],[7280,2.06],[7290,1.8],[7303,1.56],[7320,1.6],[7334,1.55],[7350,1.7],[7358,1.56],[7365,1.86],[7372,1.5],[7380,1.86],[7395,1.46],[7410,1.5],[7426,1.56],[7450,1.45],[7472,1.46],[7495,1.35],[7518,1.36],[7540,1.3],[7564,1.16],[7579,1.36],[7600,1.25],[7625,1.11],[7650,1.2],[7671,1.16],[7695,1.05],[7717,0.92],[7740,1.0],[7763,1.02],[7785,0.95],[7809,0.97],[7830,1.0],[7855,0.82],[7880,0.95],[7901,0.87],[7925,0.95],[7947,0.92],[7970,0.85],[7993,0.77],[8015,0.9],[8039,0.87],[8062,0.8],[8085,0.92],[8108,0.85],[8131,0.82],[8155,0.9],[8177,0.72],[8200,0.85],[8223,0.77],[8245,0.85],[8269,0.92],[8285,0.75],[8299,0.57],[8315,0.8],[8338,0.87],[8354,0.37],[8365,0.75],[8377,0.67],[8390,0.8],[8405,0.27],[8415,0.6],[8423,0.62],[8440,0.55],[8454,0.67],[8466,0.6],[8476,0.52],[8490,0.65],[8500,0.6]];

const seriesData = [saao17Apr2023, saao18Mar2023, fors217Jan2023, saao05Aug2022, saao19Jun2022, salt21Apr2022, salt09Mar2022, salt13Jan2022, sixdf10Mar2002];

// ---------------- STYLE ----------------
const seriesColors = ['#bfbf00','#ff0000','#0000ff','#bf00bf','#000000','#008000','#bfbf00','#ff0000','#0000ff'];
const offsetColors = ['#bfbf00','#ff0000','#0000ff','#bf00bf','#000000','#008000','#bfbf00','#ff0000'];
const FONT = "'DejaVu Sans', sans-serif";
const GRID = '#a0a0a0';

const xTicksAll = []; for (let v = 3800; v <= 8400; v += 200) xTicksAll.push(v);
const yTicksAll = []; for (let v = 0; v <= 25; v += 1) yTicksAll.push(v);

const N = seriesData.length;
const datasets = seriesData.map((d, i) => ({
  label: seriesLabels[i],
  data: d.map(p => ({x: p[0], y: p[1]})),
  borderColor: seriesColors[i],
  backgroundColor: seriesColors[i],
  borderWidth: 1.7,
  pointRadius: 0,
  tension: 0,
  fill: false,
  order: N - 1 - i
}));

const decor = {
  id: 'decor',
  afterDraw(chart) {
    const {ctx, chartArea: ca, scales: {x, y}} = chart;
    ctx.save();
    // spines
    ctx.strokeStyle = '#000'; ctx.lineWidth = 1.2;
    ctx.strokeRect(ca.left, ca.top, ca.right - ca.left, ca.bottom - ca.top);
    // tick marks
    ctx.lineWidth = 1;
    ctx.beginPath();
    xTicksAll.forEach(v => {
      const px = Math.round(x.getPixelForValue(v)) + 0.5;
      const len = xMajorTicks.includes(v) ? 7 : 4;
      ctx.moveTo(px, ca.bottom); ctx.lineTo(px, ca.bottom + len);
    });
    yTicksAll.forEach(v => {
      const py = Math.round(y.getPixelForValue(v)) + 0.5;
      const len = yMajorTicks.includes(v) ? 7 : 4;
      ctx.moveTo(ca.left, py); ctx.lineTo(ca.left - len, py);
    });
    ctx.stroke();
    // offset labels
    ctx.font = '15px ' + FONT; ctx.textAlign = 'left'; ctx.textBaseline = 'middle';
    offsetLabels.forEach((t, i) => {
      ctx.fillStyle = offsetColors[i];
      ctx.fillText(t, x.getPixelForValue(offsetLabelWl), y.getPixelForValue(offsetLabelFlux[i]));
    });
    // legend
    const lx = ca.left + 8.5, ly = ca.top + 8.5, lw = 694, lh = 72;
    ctx.beginPath();
    if (ctx.roundRect) ctx.roundRect(lx, ly, lw, lh, 4); else ctx.rect(lx, ly, lw, lh);
    ctx.fillStyle = 'rgba(255,255,255,0.8)'; ctx.fill();
    ctx.strokeStyle = '#cccccc'; ctx.lineWidth = 1; ctx.stroke();
    const colHandle = [13.5, 247.5, 479.5], colText = [57, 291, 523], rowY = [20.5, 43.5, 66];
    ctx.font = '15px ' + FONT; ctx.textBaseline = 'middle'; ctx.textAlign = 'left';
    seriesLabels.forEach((t, i) => {
      const c = Math.floor(i / 3), r = i % 3;
      const yy = ca.top + rowY[r];
      ctx.strokeStyle = seriesColors[i]; ctx.lineWidth = 2;
      ctx.beginPath(); ctx.moveTo(ca.left + colHandle[c], yy); ctx.lineTo(ca.left + colHandle[c] + 32, yy); ctx.stroke();
      ctx.fillStyle = '#000';
      ctx.fillText(t, ca.left + colText[c], yy + 1);
    });
    // annotation ellipse
    const cx = x.getPixelForValue(circleCenter[0]), cy = y.getPixelForValue(circleCenter[1]);
    const rx = x.getPixelForValue(circleCenter[0] + circleRadius[0]) - cx;
    const ry = cy - y.getPixelForValue(circleCenter[1] + circleRadius[1]);
    ctx.beginPath(); ctx.ellipse(cx, cy, rx, ry, 0, 0, Math.PI * 2);
    ctx.strokeStyle = '#ff0000'; ctx.lineWidth = 21; ctx.stroke();
    ctx.restore();
  }
};

new Chart(document.getElementById('c'), {
  type: 'line',
  data: {datasets},
  options: {
    responsive: false, animation: false, parsing: true,
    layout: {padding: {top: 11, right: 2, left: 0, bottom: 0}},
    plugins: {legend: {display: false}, tooltip: {enabled: false}},
    scales: {
      x: {
        type: 'linear', min: xLimits[0], max: xLimits[1],
        afterBuildTicks: s => { s.ticks = xTicksAll.map(v => ({value: v})); },
        afterFit: s => { s.height = 60; },
        ticks: {autoSkip: false, maxRotation: 0, padding: 2, color: '#000', font: {family: FONT, size: 16},
                callback: v => xMajorTicks.includes(v) ? String(v) : ''},
        grid: {color: c => (c.tick && xMajorTicks.includes(c.tick.value)) ? GRID : 'rgba(0,0,0,0)', lineWidth: 1.2, tickLength: 6, tickColor: 'rgba(0,0,0,0)'},
        border: {display: false},
        title: {display: true, text: 'Observed Wavelength (Å)', color: '#000', font: {family: FONT, size: 17, weight: 'bold'}, padding: {top: 0, bottom: 9}}
      },
      y: {
        type: 'linear', min: yLimits[0], max: yLimits[1],
        afterBuildTicks: s => { s.ticks = yTicksAll.map(v => ({value: v})); },
        afterFit: s => { s.width = 68; },
        ticks: {autoSkip: false, padding: 3, color: '#000', font: {family: FONT, size: 16},
                callback: v => yMajorTicks.includes(v) ? String(v) : ''},
        grid: {color: c => (c.tick && yMajorTicks.includes(c.tick.value)) ? GRID : 'rgba(0,0,0,0)', lineWidth: 1.2, tickLength: 8, tickColor: 'rgba(0,0,0,0)'},
        border: {display: false},
        title: {display: true, text: 'Flux (10⁻¹⁶ erg cm⁻² s⁻¹)', color: '#000', font: {family: FONT, size: 17, weight: 'bold'}, padding: {top: 15, bottom: 0}}
      }
    }
  },
  plugins: [decor]
});
</script>
</body></html>
